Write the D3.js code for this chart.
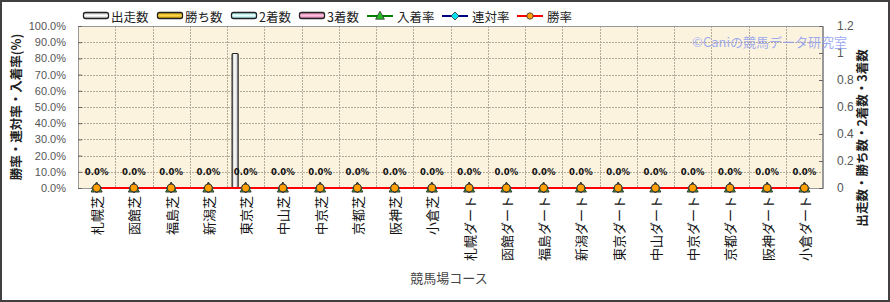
<!DOCTYPE html>
<html>
<head>
<meta charset="utf-8" />
<title>競馬場コース別成績</title>
<script src="https://cdn.jsdelivr.net/npm/d3@7"></script>
<style>
    body { margin: 0; background: #fff; }
    svg { display: block; font-family: "Noto Sans CJK JP", "Liberation Sans", sans-serif; }
    .tick text { fill: #555; font-family: "Liberation Sans", "Noto Sans CJK JP", sans-serif; font-size: 11px; }
    .domain { stroke: #999; }
    .tick line { stroke: #666; }
</style>
</head>
<body>
<script>
    // data
    var courses = ["札幌芝", "函館芝", "福島芝", "新潟芝", "東京芝", "中山芝", "中京芝", "京都芝", "阪神芝", "小倉芝",
        "札幌ダート", "函館ダート", "福島ダート", "新潟ダート", "東京ダート", "中山ダート", "中京ダート", "京都ダート", "阪神ダート", "小倉ダート"]
    var starts = [0, 0, 0, 0, 1, 0, 0, 0, 0, 0, 0, 0, 0, 0, 0, 0, 0, 0, 0, 0]
    var wins = [0, 0, 0, 0, 0, 0, 0, 0, 0, 0, 0, 0, 0, 0, 0, 0, 0, 0, 0, 0]
    var seconds = [0, 0, 0, 0, 0, 0, 0, 0, 0, 0, 0, 0, 0, 0, 0, 0, 0, 0, 0, 0]
    var thirds = [0, 0, 0, 0, 0, 0, 0, 0, 0, 0, 0, 0, 0, 0, 0, 0, 0, 0, 0, 0]
    var placeRate = [0, 0, 0, 0, 0, 0, 0, 0, 0, 0, 0, 0, 0, 0, 0, 0, 0, 0, 0, 0]
    var rentaiRate = [0, 0, 0, 0, 0, 0, 0, 0, 0, 0, 0, 0, 0, 0, 0, 0, 0, 0, 0, 0]
    var winRate = [0, 0, 0, 0, 0, 0, 0, 0, 0, 0, 0, 0, 0, 0, 0, 0, 0, 0, 0, 0]
    var leftTicks = [0, 0.1, 0.2, 0.3, 0.4, 0.5, 0.6, 0.7, 0.8, 0.9, 1.0]
    var rightTicks = [0, 0.2, 0.4, 0.6, 0.8, 1, 1.2]

    var W = 890, H = 302
    var plot = { left: 78, right: 823, top: 26, bottom: 188 }

    var svg = d3.select("body").append("svg").attr("width", W).attr("height", H)
    var defs = svg.append("defs")

    function barGradient(id, dark, light) {
        var g = defs.append("linearGradient").attr("id", id).attr("x1", 0).attr("x2", 1).attr("y1", 0).attr("y2", 0)
        g.append("stop").attr("offset", "0%").attr("stop-color", dark)
        g.append("stop").attr("offset", "45%").attr("stop-color", light)
        g.append("stop").attr("offset", "100%").attr("stop-color", dark)
    }
    function swatchGradient(id, dark, light) {
        var g = defs.append("linearGradient").attr("id", id).attr("x1", 0).attr("x2", 0).attr("y1", 0).attr("y2", 1)
        g.append("stop").attr("offset", "0%").attr("stop-color", dark)
        g.append("stop").attr("offset", "50%").attr("stop-color", light)
        g.append("stop").attr("offset", "100%").attr("stop-color", dark)
    }

    var barSeries = [
        { name: "出走数", values: starts, dark: "#b8b8b8", light: "#ffffff" },
        { name: "勝ち数", values: wins, dark: "#c89400", light: "#ffd84a" },
        { name: "2着数", values: seconds, dark: "#8cd8d8", light: "#e8ffff" },
        { name: "3着数", values: thirds, dark: "#d070a0", light: "#ffc0e0" }
    ]
    barSeries.forEach(function (s, i) {
        barGradient("bar" + i, s.dark, s.light)
        swatchGradient("sw" + i, s.dark, s.light)
    })

    var lineSeries = [
        { name: "入着率", values: placeRate, color: "#008000", marker: "triangle", fill: "#22c022" },
        { name: "連対率", values: rentaiRate, color: "#000080", marker: "diamond", fill: "#00e0f0" },
        { name: "勝率", values: winRate, color: "#ff0000", marker: "circle", fill: "#ffa000" }
    ]

    // scales
    var x = d3.scaleBand().domain(courses).range([plot.left, plot.right])
    var xInner = d3.scaleBand().domain(d3.range(barSeries.length)).range([-14, 14])
    var yLeft = d3.scaleLinear().domain([0, 1]).range([plot.bottom, plot.top])
    var yRight = d3.scaleLinear().domain([0, 1.2]).range([plot.bottom, plot.top])

    // outer frame
    svg.append("rect").attr("x", 1).attr("y", 1).attr("width", W - 2).attr("height", H - 2)
        .attr("fill", "#fff").attr("stroke", "#404040").attr("stroke-width", 2)

    // plot background
    svg.append("rect").attr("x", plot.left).attr("y", plot.top)
        .attr("width", plot.right - plot.left).attr("height", plot.bottom - plot.top)
        .attr("fill", "#fcf3df")

    // grid
    svg.append("g").selectAll("line").data(leftTicks.slice(1, -1)).enter().append("line")
        .attr("x1", plot.left).attr("x2", plot.right)
        .attr("y1", d => Math.round(yLeft(d)) + 0.5).attr("y2", d => Math.round(yLeft(d)) + 0.5)
        .attr("stroke", "#b4ab9a").attr("stroke-dasharray", "2,1")
    svg.append("g").selectAll("line").data(courses.slice(1)).enter().append("line")
        .attr("x1", d => Math.round(x(d)) + 0.5).attr("x2", d => Math.round(x(d)) + 0.5)
        .attr("y1", plot.top).attr("y2", plot.bottom)
        .attr("stroke", "#b4ab9a").attr("stroke-dasharray", "2,1")

    // plot border
    svg.append("rect").attr("x", plot.left + 0.5).attr("y", plot.top + 0.5)
        .attr("width", plot.right - plot.left - 1).attr("height", plot.bottom - plot.top)
        .attr("fill", "none").attr("stroke", "#999")

    // axes
    svg.append("g").attr("transform", "translate(" + plot.left + ",0)")
        .call(d3.axisLeft(yLeft).tickValues(leftTicks).tickSize(-4).tickPadding(12).tickFormat(d3.format(".1%")))
    svg.append("g").attr("transform", "translate(" + plot.right + ",0)")
        .call(d3.axisRight(yRight).tickValues(rightTicks).tickSize(-4).tickPadding(14).tickFormat(d => d3.format("~g")(d)))
        .selectAll(".tick text").style("font-size", "12px")

    // bars
    barSeries.forEach(function (s, i) {
        svg.append("g").selectAll("rect").data(s.values.map((v, j) => ({ c: courses[j], v: v })).filter(d => d.v > 0))
            .enter().append("rect")
            .attr("x", d => x(d.c) + x.bandwidth() / 2 + xInner(i) + 0.5)
            .attr("y", d => yRight(d.v) + 0.5)
            .attr("width", xInner.bandwidth() - 1)
            .attr("height", d => yRight(0) - yRight(d.v))
            .attr("rx", 1)
            .attr("fill", "url(#bar" + i + ")")
            .attr("stroke", "#222").attr("stroke-width", 1.2)
    })

    // lines
    lineSeries.forEach(function (s) {
        var line = d3.line().x((d, j) => x(courses[j]) + x.bandwidth() / 2).y(d => yLeft(d))
        svg.append("path").datum(s.values).attr("d", line)
            .attr("fill", "none").attr("stroke", s.color).attr("stroke-width", 2)
    })

    function markerPath(type) {
        if (type == "triangle") return "M0,-6L5.5,4L-5.5,4Z"
        if (type == "diamond") return "M0,-5L5,0L0,5L-5,0Z"
        return d3.symbol().type(d3.symbolCircle).size(50)()
    }
    lineSeries.forEach(function (s) {
        svg.append("g").selectAll("path").data(s.values).enter().append("path")
            .attr("transform", (d, j) => "translate(" + (x(courses[j]) + x.bandwidth() / 2) + "," + yLeft(d) + ")")
            .attr("d", markerPath(s.marker))
            .attr("fill", s.fill).attr("stroke", "#333").attr("stroke-width", 1)
    })

    // rate labels
    svg.append("g").selectAll("text").data(winRate).enter().append("text")
        .attr("x", (d, j) => x(courses[j]) + x.bandwidth() / 2)
        .attr("y", d => yLeft(d) - 13)
        .attr("text-anchor", "middle")
        .style("font-family", "'DejaVu Sans', sans-serif").style("font-size", "8.5px").style("font-weight", "bold")
        .attr("fill", "#111")
        .text(d => d3.format(".1%")(d))

    // x labels
    svg.append("g").selectAll("text").data(courses).enter().append("text")
        .attr("transform", d => "translate(" + (x(d) + x.bandwidth() / 2) + "," + (plot.bottom + 8) + ") rotate(-90)")
        .attr("text-anchor", "end").attr("dominant-baseline", "central")
        .style("font-size", "13px").attr("fill", "#111")
        .text(d => d)

    // titles
    svg.append("text").attr("x", 449).attr("y", 283).attr("text-anchor", "middle")
        .style("font-size", "13px").attr("fill", "#444").text("競馬場コース")
    svg.append("text").attr("transform", "translate(15,107) rotate(-90)")
        .attr("text-anchor", "middle").attr("dominant-baseline", "central")
        .style("font-size", "12.5px").style("font-weight", "bold").attr("fill", "#222")
        .text("勝率・連対率・入着率(%)")
    svg.append("text").attr("transform", "translate(861,138) rotate(-90)")
        .attr("text-anchor", "middle").attr("dominant-baseline", "central")
        .style("font-size", "12.5px").style("font-weight", "bold").attr("fill", "#222")
        .text("出走数・勝ち数・2着数・3着数")

    // watermark
    svg.append("text").attr("x", 847).attr("y", 47).attr("text-anchor", "end")
        .style("font-size", "13px").attr("fill", "#8c9cf0").attr("fill-opacity", 0.85)
        .text("©Caniの競馬データ研究室")

    // legend
    var legendX = [83, 157, 231, 299, 367, 442, 517]
    var legend = svg.append("g").style("font-size", "12.5px")
    barSeries.forEach(function (s, i) {
        legend.append("rect").attr("x", legendX[i] + 0.5).attr("y", 12.5).attr("width", 25).attr("height", 6)
            .attr("rx", 2).attr("fill", "url(#sw" + i + ")").attr("stroke", "#222").attr("stroke-width", 1.3)
        legend.append("text").attr("x", legendX[i] + 28).attr("y", 16).attr("dominant-baseline", "central")
            .attr("fill", "#222").text(s.name)
    })
    lineSeries.forEach(function (s, k) {
        var lx = legendX[barSeries.length + k]
        legend.append("line").attr("x1", lx).attr("x2", lx + 26).attr("y1", 16).attr("y2", 16)
            .attr("stroke", s.color).attr("stroke-width", 2)
        legend.append("path").attr("transform", "translate(" + (lx + 13) + ",16) scale(0.8)")
            .attr("d", markerPath(s.marker)).attr("fill", s.fill).attr("stroke", "#333")
        legend.append("text").attr("x", lx + 30).attr("y", 16).attr("dominant-baseline", "central")
            .attr("fill", "#222").text(s.name)
    })
</script>
</body>
</html>
